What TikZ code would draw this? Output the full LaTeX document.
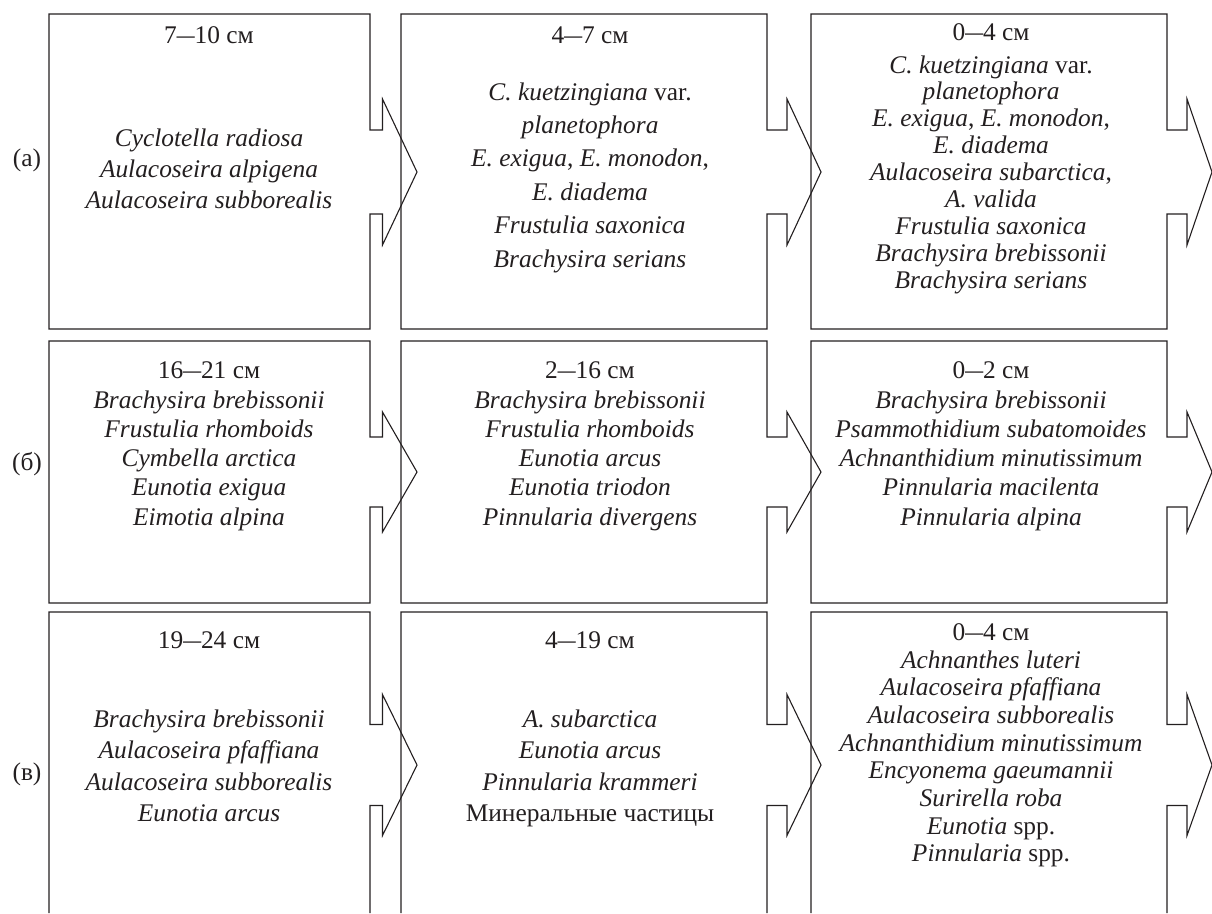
\documentclass[tikz,border=0pt]{standalone}
\usepackage{fontspec}
\setmainfont{Liberation Serif}
\usepackage{graphicx}
\definecolor{ink}{RGB}{35,31,32}
\newcommand\dsh{\scalebox{1.4}[1]{–}}
% L R T B yc n b dn dt
\newcommand\arbox[9]{%
  \draw[boxline] (#1,#3) -- (#2,#3) -- (#2,{#5-#6}) -- ({#2+#8},{#5-#6}) -- ({#2+#8},{#5-#7})
    -- ({#2+#9},#5) -- ({#2+#8},{#5+#7}) -- ({#2+#8},{#5+#6}) -- (#2,{#5+#6}) -- (#2,#4) -- (#1,#4) -- cycle;}
\newcommand\arboxopen[9]{%
  \draw[boxline] (#1,#4) -- (#1,#3) -- (#2,#3) -- (#2,{#5-#6}) -- ({#2+#8},{#5-#6}) -- ({#2+#8},{#5-#7})
    -- ({#2+#9},#5) -- ({#2+#8},{#5+#7}) -- ({#2+#8},{#5+#6}) -- (#2,{#5+#6}) -- (#2,#4);}
% list nodes are anchored at the baseline of their LAST line
\tikzset{
  boxline/.style={draw=ink, line width=1.1pt, line join=miter},
  hdr/.style={anchor=base, inner sep=0pt, text=ink, font=\fontsize{25.4}{30}\selectfont},
  lst/.style={anchor=base, align=center, inner sep=0pt, text=ink, font=\fontsize{25.4}{#1}\selectfont},
  rowlab/.style={anchor=base, inner sep=0pt, text=ink, font=\fontsize{25.4}{30}\selectfont}
}
\begin{document}
\begin{tikzpicture}[x=1pt,y=-1pt]
\useasboundingbox (0,0) rectangle (1212,913);
% row (a)
\arbox{49}{370}{14}{329}{172}{42}{73}{12.5}{47}
\arbox{401}{767}{14}{329}{172}{42}{73}{20}{54}
\arbox{811}{1167}{14}{329}{172}{42}{73}{20}{45}
% row (b)
\arbox{49}{370}{341}{603}{472}{35}{60}{12.5}{47}
\arbox{401}{767}{341}{603}{472}{35}{60}{20}{54}
\arbox{811}{1167}{341}{603}{472}{35}{60}{20}{45}
% row (c)
\arboxopen{49}{370}{612}{913}{765}{40.5}{70.5}{12.5}{47}
\arboxopen{401}{767}{612}{913}{765}{40.5}{70.5}{20}{54}
\arboxopen{811}{1167}{612}{913}{765}{40.5}{70.5}{20}{45}

\node[rowlab] (la) at (27,166) {(а)};
\node[rowlab] (lb) at (27,470) {(б)};
\node[rowlab] (lc) at (27,780) {(в)};

% texts row (a)
\node[hdr] (ha1) at (209,43) {7\dsh10 см};
\node[lst=31] (ta1) at (209,208) {\textit{Cyclotella radiosa}\\ \textit{Aulacoseira alpigena}\\ \textit{Aulacoseira subborealis}};
\node[hdr] (ha2) at (590,43) {4\dsh7 см};
\node[lst=33.4] (ta2) at (590,267) {\textit{C. kuetzingiana} var.\\ \textit{planetophora}\\ \textit{E. exigua}, \textit{E. monodon},\\ \textit{E. diadema}\\ \textit{Frustulia saxonica}\\ \textit{Brachysira serians}};
\node[hdr] (ha3) at (991,40) {0\dsh4 см};
\node[lst=26.9] (ta3) at (991,288.2) {\textit{C. kuetzingiana} var.\\ \textit{planetophora}\\ \textit{E. exigua}, \textit{E. monodon},\\ \textit{E. diadema}\\ \textit{Aulacoseira subarctica},\\ \textit{A. valida}\\ \textit{Frustulia saxonica}\\ \textit{Brachysira brebissonii}\\ \textit{Brachysira serians}};

% texts row (b)
\node[hdr] (hb1) at (209,378) {16\dsh21 см};
\node[lst=29.3] (tb1) at (209,525.2) {\textit{Brachysira brebissonii}\\ \textit{Frustulia rhomboids}\\ \textit{Cymbella arctica}\\ \textit{Eunotia exigua}\\ \textit{Eimotia alpina}};
\node[hdr] (hb2) at (590,378) {2\dsh16 см};
\node[lst=29.3] (tb2) at (590,525.2) {\textit{Brachysira brebissonii}\\ \textit{Frustulia rhomboids}\\ \textit{Eunotia arcus}\\ \textit{Eunotia triodon}\\ \textit{Pinnularia divergens}};
\node[hdr] (hb3) at (991,378) {0\dsh2 см};
\node[lst=29.3] (tb3) at (991,525.2) {\textit{Brachysira brebissonii}\\ \textit{Psammothidium subatomoides}\\ \textit{Achnanthidium minutissimum}\\ \textit{Pinnularia macilenta}\\ \textit{Pinnularia alpina}};

% texts row (c)
\node[hdr] (hc1) at (209,648) {19\dsh24 см};
\node[lst=31.5] (tc1) at (209,821.5) {\textit{Brachysira brebissonii}\\ \textit{Aulacoseira pfaffiana}\\ \textit{Aulacoseira subborealis}\\ \textit{Eunotia arcus}};
\node[hdr] (hc2) at (590,648) {4\dsh19 см};
\node[lst=31.5] (tc2) at (590,821.5) {\textit{A. subarctica}\\ \textit{Eunotia arcus}\\ \textit{Pinnularia krammeri}\\ Минеральные частицы};
\node[hdr] (hc3) at (991,640) {0\dsh4 см};
\node[lst=27.7] (tc3) at (991,861.9) {\textit{Achnanthes luteri}\\ \textit{Aulacoseira pfaffiana}\\ \textit{Aulacoseira subborealis}\\ \textit{Achnanthidium minutissimum}\\ \textit{Encyonema gaeumannii}\\ \textit{Surirella roba}\\ \textit{Eunotia} spp.\\ \textit{Pinnularia} spp.};
\end{tikzpicture}
\end{document}
